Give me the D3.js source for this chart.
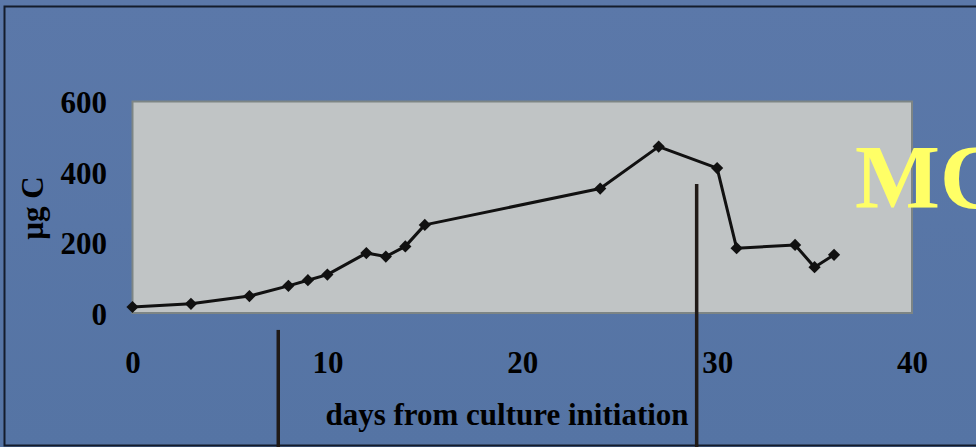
<!DOCTYPE html>
<html lang="en">
<head>
<meta charset="utf-8">
<title>Carbon over culture time</title>
<style>
  html, body { margin: 0; padding: 0; background: #5a77a8; }
  svg { display: block; }
  .tick text { font-family: "Liberation Serif", "Times New Roman", serif; font-weight: bold; font-size: 31px; fill: #000; }
  .axis-title { font-family: "Liberation Serif", "Times New Roman", serif; font-weight: bold; fill: #000; }
  .series { fill: none; stroke: #111; stroke-width: 3px; stroke-linejoin: round; }
</style>
</head>
<body>
<script src="https://cdn.jsdelivr.net/npm/d3@7"></script>
<script>
  // data
  const days = [0, 3, 6, 8, 9, 10, 12, 13, 14, 15, 24, 27, 30, 31, 34, 35, 36];
  const carbon = [17, 26, 48, 77, 93, 109, 170, 160, 189, 250, 353, 472, 411, 184, 193, 130, 165];
  const xTicks = [0, 10, 20, 30, 40];
  const yTicks = [0, 200, 400, 600];
  // the two black marker bars (day, value where the bar starts)
  const barDays = [7.48, 28.95];
  const barTops = [-48, 366];

  const width = 976, height = 447;

  const x = d3.scaleLinear().domain([0, 40]).range([132.5, 912]);
  const y = d3.scaleLinear().domain([0, 600]).range([313, 101.5]);

  const svg = d3.select("body").append("svg")
    .attr("width", width)
    .attr("height", height);

  const grad = svg.append("defs").append("linearGradient")
    .attr("id", "bg").attr("x1", 0).attr("y1", 0).attr("x2", 0).attr("y2", 1);
  grad.append("stop").attr("offset", "0%").attr("stop-color", "#5b78a9");
  grad.append("stop").attr("offset", "100%").attr("stop-color", "#5574a4");

  svg.append("rect")
    .attr("width", width).attr("height", height)
    .attr("fill", "url(#bg)");

  // slide frame
  svg.append("rect")
    .attr("x", 4.5).attr("y", 6.5)
    .attr("width", width + 10).attr("height", 439)
    .attr("fill", "none")
    .attr("stroke", "#141c2c")
    .attr("stroke-width", 2);

  // plot area
  svg.append("rect")
    .attr("x", x(0)).attr("y", y(600))
    .attr("width", x(40) - x(0)).attr("height", y(0) - y(600))
    .attr("fill", "#c0c4c5")
    .attr("stroke", "#7d8585")
    .attr("stroke-width", 2);

  // axes (labels only)
  const xAxis = svg.append("g")
    .attr("transform", "translate(0,373)")
    .call(d3.axisBottom(x).tickValues(xTicks).tickSize(0).tickPadding(0).tickFormat(d3.format("d")));
  xAxis.select(".domain").remove();
  xAxis.selectAll("text").attr("dy", 0);

  const yAxis = svg.append("g")
    .attr("transform", "translate(107,0)")
    .call(d3.axisLeft(y).tickValues(yTicks).tickSize(0).tickPadding(0).tickFormat(d3.format("d")));
  yAxis.select(".domain").remove();
  yAxis.selectAll("text").attr("dy", "0.36em");

  // axis titles
  svg.append("text")
    .attr("class", "axis-title")
    .attr("x", 507).attr("y", 425)
    .attr("text-anchor", "middle")
    .attr("font-size", 31)
    .text("days from culture initiation");

  svg.append("text")
    .attr("class", "axis-title")
    .attr("transform", "translate(43,208) rotate(-90)")
    .attr("text-anchor", "middle")
    .attr("font-size", 31)
    .text("µg C");

  // series
  const pts = days.map((d, i) => [d, carbon[i]]);

  svg.append("path")
    .datum(pts)
    .attr("class", "series")
    .attr("d", d3.line().x(d => x(d[0])).y(d => y(d[1])));

  svg.selectAll(".pt")
    .data(pts)
    .join("path")
    .attr("class", "pt")
    .attr("transform", d => "translate(" + x(d[0]) + "," + y(d[1]) + ")")
    .attr("d", d3.symbol().type(d3.symbolDiamond2).size(95))
    .attr("fill", "#111");

  // marker bars
  svg.selectAll(".bar-line")
    .data(barDays)
    .join("line")
    .attr("class", "bar-line")
    .attr("x1", d => x(d)).attr("x2", d => x(d))
    .attr("y1", (d, i) => y(barTops[i]))
    .attr("y2", height)
    .attr("stroke", "#201a17")
    .attr("stroke-width", 3.5);

  // big yellow label, runs off the right edge as in the slide
  svg.append("text")
    .attr("x", 855).attr("y", 208)
    .attr("font-family", "Liberation Serif, Times New Roman, serif")
    .attr("font-weight", "bold")
    .attr("font-size", 90)
    .attr("fill", "#ffff66")
    .text("MC");
</script>
</body>
</html>
